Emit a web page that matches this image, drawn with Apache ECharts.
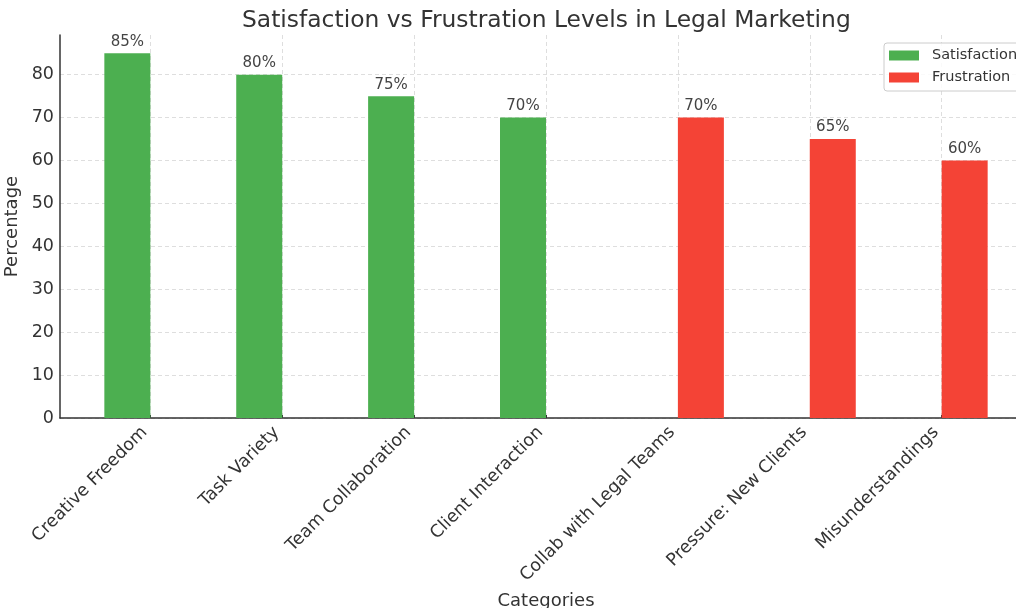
<!DOCTYPE html>
<html><head><meta charset="utf-8">
<script src="https://cdn.jsdelivr.net/npm/echarts@6/dist/echarts.min.js"></script>
<style>html,body{margin:0;padding:0;background:#fff}#c{width:1016px;height:608px}</style>
</head><body><div id="c"></div>
<script>
const categories = ['Creative Freedom', 'Task Variety', 'Team Collaboration', 'Client Interaction',
  'Collab with Legal Teams', 'Pressure: New Clients', 'Misunderstandings'];
const satisfactionValues = [85, 80, 75, 70, null, null, null];
const frustrationValues = [null, null, null, null, 70, 65, 60];
const yTicks = [0, 10, 20, 30, 40, 50, 60, 70, 80];

const FONT = 'DejaVu Sans';
const idx = categories.map((_, i) => i);
const pairs = arr => arr.map((v, i) => [i, v]).filter(p => p[1] !== null);

const chart = echarts.init(document.getElementById('c'), null, { renderer: 'canvas' });
const gridLine = { show: true, lineStyle: { color: '#d5d5d5', width: 0.8, type: [4, 3] } };
const labelCfg = {
  show: true, position: 'top', distance: 4,
  fontFamily: FONT, fontSize: 15, color: '#444',
  formatter: p => p.value[1] + '%'
};

chart.setOption({
  animation: false,
  backgroundColor: '#fff',
  title: {
    text: 'Satisfaction vs Frustration Levels in Legal Marketing',
    left: 237, top: 4,
    textStyle: { fontFamily: FONT, fontSize: 23.4, fontWeight: 'normal', color: '#333' }
  },
  legend: {
    orient: 'vertical', left: 884, top: 43,
    padding: [5, 30, 6, 5],
    itemWidth: 30, itemHeight: 10, itemGap: 7,
    icon: 'rect',
    borderColor: '#ccc', borderWidth: 1, borderRadius: 3,
    backgroundColor: 'rgba(255,255,255,0.85)',
    textStyle: { fontFamily: FONT, fontSize: 14.5, color: '#333', padding: [0, 0, 0, 8] },
    data: ['Satisfaction', 'Frustration']
  },
  grid: { left: 60, right: -16, top: 35, bottom: 190, containLabel: false, outerBoundsMode: 'none' },
  xAxis: {
    type: 'value', min: -0.685, max: 6.685,
    name: 'Categories', nameLocation: 'middle', nameGap: 169,
    nameTextStyle: { fontFamily: FONT, fontSize: 18, color: '#333' },
    axisLine: { show: true, onZero: false, lineStyle: { color: '#333', width: 1.5 } },
    axisTick: { show: true, inside: true, length: 3, customValues: idx, lineStyle: { color: '#333' } },
    axisLabel: {
      customValues: idx, formatter: v => categories[v] || '',
      rotate: 45, margin: 6, padding: [0, 8, 0, 0],
      fontFamily: FONT, fontSize: 17.5, color: '#333'
    },
    splitLine: gridLine
  },
  yAxis: {
    type: 'value', min: 0, max: 89.25, interval: 10,
    name: 'Percentage', nameLocation: 'middle', nameGap: 26,
    nameTextStyle: { fontFamily: FONT, fontSize: 18, color: '#333' },
    axisLine: { show: true, onZero: false, lineStyle: { color: '#333', width: 1.5 } },
    axisTick: { show: false },
    axisLabel: { showMaxLabel: false, margin: 6, fontFamily: FONT, fontSize: 17.5, color: '#333' },
    splitLine: Object.assign({ showMaxLine: false }, gridLine)
  },
  series: [
    {
      name: 'Satisfaction', type: 'bar', barWidth: 46, barGap: '0%',
      itemStyle: { color: '#4CAF50' },
      label: labelCfg,
      data: pairs(satisfactionValues)
    },
    {
      name: 'Frustration', type: 'bar', barWidth: 46, barGap: '0%',
      itemStyle: { color: '#F44336' },
      label: labelCfg,
      data: pairs(frustrationValues)
    }
  ]
});
</script>
</body></html>
